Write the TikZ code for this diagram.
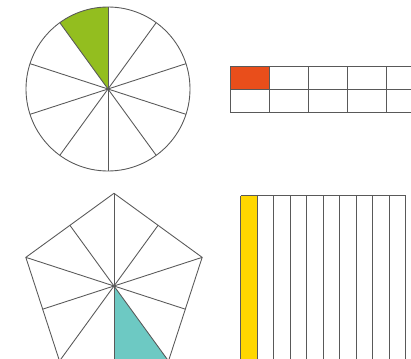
\documentclass[tikz,border=0pt]{standalone}
\definecolor{partgreen}{HTML}{93BE1F}
\definecolor{partorange}{HTML}{E94E1B}
\definecolor{partteal}{HTML}{6DC9C3}
\definecolor{partyellow}{HTML}{FFD700}
\begin{document}
\begin{tikzpicture}[
    x=0.03cm, y=0.03cm,
    edge/.style={draw=black!65, line width=0.75pt},
    green/.style={fill=partgreen},
    orange/.style={fill=partorange},
    teal/.style={fill=partteal},
    yellow/.style={fill=partyellow}
]
\useasboundingbox (0,0) rectangle (411,359);
\clip (0,0) rectangle (411,359);

% circle in tenths
\begin{scope}[shift={(108,270)}]
\fill[green] (0,0) -- (90:82) arc[start angle=90, end angle=126, radius=82] -- cycle;
\foreach \a in {18,54,...,342}
  \draw[edge] (0,0) -- (\a:82);
\draw[edge] (0,0) circle[radius=82];
\end{scope}

% rectangle in tenths
\fill[orange] (230.7,269.7) rectangle (269.7,293);
\foreach \i in {0,...,5}
  \draw[edge] (230.7+39*\i,246.3) -- (230.7+39*\i,293);
\foreach \j in {0,1,2}
  \draw[edge] (230.7,246.3+23.35*\j) -- (430,246.3+23.35*\j);

% pentagon in tenths
\begin{scope}[shift={(114,73)}]
\fill[teal] (0,0) -- (270:75) -- (306:92.7) -- cycle;
\foreach \a in {90,162,234,306,18}
  \draw[edge] (0,0) -- (\a:92.7);
\foreach \a in {54,126,198,270,342}
  \draw[edge] (0,0) -- (\a:75);
\draw[edge] (90:92.7) -- (162:92.7) -- (234:92.7) -- (306:92.7) -- (18:92.7) -- cycle;
\end{scope}

% strips in tenths
\fill[yellow] (240.7,-20) rectangle (257.2,163.3);
\foreach \i in {0,...,10}
  \draw[edge] (240.7+16.5*\i,-20) -- (240.7+16.5*\i,163.3);
\draw[edge] (240.7,163.3) -- (405.7,163.3);
\end{tikzpicture}
\end{document}
